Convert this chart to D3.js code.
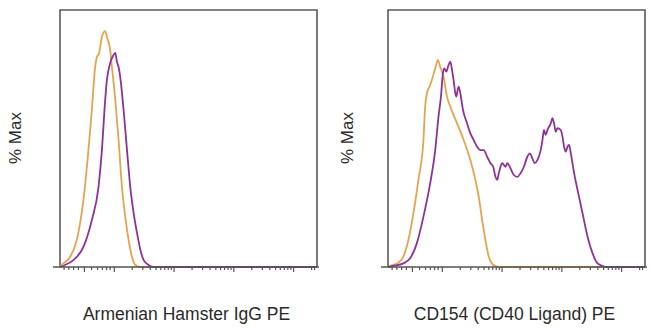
<!DOCTYPE html>
<html>
<head>
<meta charset="utf-8">
<script src="https://cdn.jsdelivr.net/npm/d3@7"></script>
<style>
  body { margin: 0; background: #fff; }
  svg { display: block; font-family: "Liberation Sans", Arial, sans-serif; }
</style>
</head>
<body>
<svg id="chart" width="650" height="328"></svg>
<script>
"use strict";

// x values are in display decades of the biexponential axis (1.5 = zero, 2 = 10^2 ... 5 = 10^5)
// y values are % Max
const isotypeOrange = [[1.10, 0], [1.129, 0.8], [1.268, 3.9], [1.381, 10.5], [1.492, 26.1], [1.576, 45.5], [1.633, 61.1],
  [1.688, 77.8], [1.717, 81.7], [1.755, 83.3], [1.801, 89.5], [1.856, 91.8], [1.885, 89.5], [1.940, 84.4],
  [1.969, 77.8], [2.025, 65.0], [2.080, 49.4], [2.137, 31.1], [2.192, 19.5], [2.248, 10.5], [2.305, 3.9],
  [2.361, 0.8], [2.45, 0], [5.40, 0]];
const isotypePurple = [[1.10, 0], [1.184, 0.8], [1.324, 2.7], [1.492, 7.8], [1.633, 18.3], [1.744, 31.1], [1.801, 45.5],
  [1.856, 65.0], [1.885, 72.8], [1.912, 76.7], [1.940, 79.4], [1.969, 81.3], [1.996, 82.5], [2.025, 83.3],
  [2.053, 79.8], [2.080, 77.8], [2.108, 73.9], [2.164, 61.1], [2.221, 45.5], [2.276, 31.1], [2.332, 21.0],
  [2.389, 13.2], [2.445, 6.6], [2.500, 2.7], [2.584, 0.8], [2.65, 0], [5.40, 0]];

const cd154Orange = [[1.10, 0], [1.134, 0.4], [1.273, 1.7], [1.357, 4.0], [1.441, 10.5], [1.525, 20.9], [1.609, 33.9],
  [1.693, 49.4], [1.722, 62.4], [1.750, 67.6], [1.794, 70.2], [1.834, 72.8], [1.890, 77.3], [1.935, 80.5],
  [1.974, 77.9], [2.029, 74.0], [2.087, 66.3], [2.142, 62.4], [2.255, 55.9], [2.366, 49.4], [2.478, 41.6],
  [2.562, 33.9], [2.618, 27.4], [2.675, 18.3], [2.730, 10.5], [2.786, 4.0], [2.843, 1.2], [2.898, 0.4],
  [2.95, 0], [5.40, 0]];
const cd154Purple = [[1.10, 0], [1.189, 0.4], [1.357, 1.4], [1.470, 3.4], [1.582, 9.2], [1.693, 19.6], [1.806, 32.6],
  [1.890, 45.5], [1.945, 58.5], [1.986, 66.3], [2.019, 75.4], [2.041, 77.3], [2.075, 76.0], [2.113, 78.6],
  [2.142, 79.9], [2.171, 76.7], [2.197, 72.8], [2.226, 67.6], [2.243, 66.3], [2.265, 68.9], [2.282, 70.2],
  [2.310, 67.6], [2.355, 61.1], [2.423, 55.9], [2.478, 52.0], [2.534, 49.4], [2.591, 46.8], [2.646, 45.5],
  [2.702, 45.5], [2.759, 42.9], [2.814, 40.4], [2.860, 39.0], [2.898, 35.1], [2.927, 33.9], [2.954, 36.5],
  [2.982, 39.0], [3.011, 40.4], [3.038, 39.7], [3.066, 39.0], [3.095, 40.4], [3.122, 39.7], [3.150, 38.4],
  [3.206, 35.8], [3.263, 35.1], [3.318, 36.5], [3.374, 39.0], [3.431, 42.9], [3.475, 44.2], [3.515, 42.3],
  [3.554, 40.4], [3.599, 41.6], [3.655, 45.5], [3.684, 49.4], [3.710, 53.3], [3.739, 51.4], [3.767, 53.3],
  [3.823, 55.9], [3.851, 57.9], [3.878, 55.9], [3.907, 52.6], [3.935, 54.0], [3.991, 53.3], [4.019, 50.7],
  [4.046, 46.8], [4.075, 44.9], [4.103, 46.8], [4.130, 47.5], [4.159, 44.2], [4.214, 36.5], [4.271, 30.0],
  [4.355, 20.9], [4.439, 11.8], [4.523, 5.3], [4.607, 1.4], [4.692, 0.4], [4.75, 0], [5.40, 0]];

const xLabels = ["Armenian Hamster IgG PE", "CD154 (CD40 Ligand) PE"];
const yLabel = "% Max";
const majorTicks = [1.5, 2, 3, 4, 5];
const minorTicks = [1.16, 1.24, 1.32, 1.40, 1.62, 1.72, 1.80, 1.87, 1.93]
  .concat([2, 3, 4].flatMap(dec => [2, 3, 4, 5, 6, 7, 8, 9].map(k => dec + Math.log10(k))))
  .concat([5.301, 5.35]);

let panels = [
  { left: 60, series: [isotypeOrange, isotypePurple], xLabel: xLabels[0], yLabelX: 15 },
  { left: 388, series: [cd154Orange, cd154Purple], xLabel: xLabels[1], yLabelX: 347 }
];
let colors = ["#e3a54f", "#8d3397"];
let frame = { top: 10, bottom: 267, width: 257 };

let svg = d3.select("#chart");

panels.forEach(panel => {
  let g = svg.append("g").attr("transform", `translate(${panel.left},0)`);
  let xScale = d3.scaleLinear().domain([1.1, 5.4]).range([0, frame.width]);
  let yScale = d3.scaleLinear().domain([0, 100]).range([frame.bottom, frame.top]);

  // frame: left, top, right
  g.append("path")
    .attr("d", `M0,${frame.bottom}V${frame.top}H${frame.width}V${frame.bottom}`)
    .attr("fill", "none").attr("stroke", "#5a5a5a").attr("stroke-width", 1.6);

  let line = d3.line().x(d => xScale(d[0])).y(d => yScale(d[1])).curve(d3.curveMonotoneX);
  panel.series.forEach((s, i) => {
    g.append("path").datum(s).attr("d", line)
      .attr("fill", "none").attr("stroke", colors[i])
      .attr("stroke-width", 1.8).attr("stroke-linejoin", "round");
  });

  // x axis with biexponential style ticks
  let axisMajor = d3.axisBottom(xScale).tickValues(majorTicks).tickSize(5).tickFormat("");
  let axisMinor = d3.axisBottom(xScale).tickValues(minorTicks).tickSize(3).tickFormat("");
  let ax = g.append("g").attr("transform", `translate(0,${frame.bottom})`);
  ax.append("g").call(axisMinor);
  ax.append("g").call(axisMajor);
  ax.selectAll(".domain").remove();
  ax.selectAll(".tick line").attr("stroke", "#555").attr("stroke-width", 1.2);
  ax.append("line").attr("x1", -7).attr("x2", frame.width + 2)
    .attr("stroke", "#555").attr("stroke-width", 1.6);

  g.append("text")
    .attr("x", frame.width / 2 - 2).attr("y", 320)
    .attr("text-anchor", "middle").style("font-size", "17.5px").style("fill", "#2a2a2a")
    .text(panel.xLabel);

  svg.append("text")
    .attr("transform", `translate(${panel.yLabelX},138) rotate(-90)`)
    .attr("text-anchor", "middle").attr("dy", "0.35em")
    .style("font-size", "17px").style("fill", "#2a2a2a")
    .text(yLabel);
});
</script>
</body>
</html>
